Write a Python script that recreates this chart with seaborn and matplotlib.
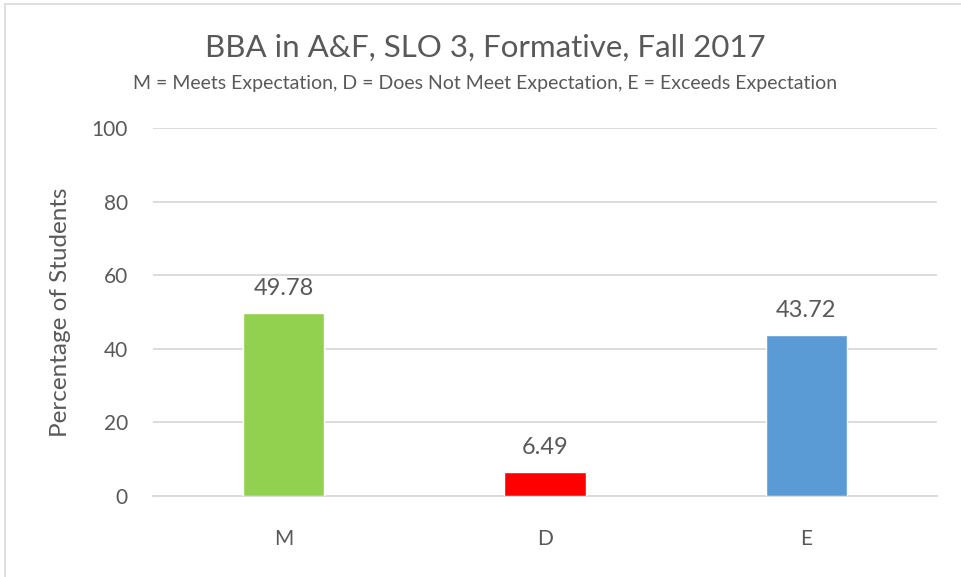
import matplotlib
matplotlib.use("Agg")
import matplotlib.pyplot as plt
import seaborn as sns
import pandas as pd
from matplotlib.patches import Rectangle

# chart data
categories = ["M", "D", "E"]
percentages = [49.78, 6.49, 43.72]
bar_colors = ["#92D050", "#FF0000", "#5B9BD5"]
y_ticks = [0, 20, 40, 60, 80, 100]

title = "BBA in A&F, SLO 3, Formative, Fall 2017"
subtitle = "M = Meets Expectation, D = Does Not Meet Expectation, E = Exceeds Expectation"
y_label = "Percentage of Students"

TEXT = "#595959"
GRID = "#D9D9D9"

sns.set_theme(style="white")
plt.rcParams["font.family"] = ["Lato", "DejaVu Sans"]

df = pd.DataFrame({"category": categories, "value": percentages})

fig = plt.figure(figsize=(9.61, 5.77), dpi=100)
ax = fig.add_axes([153 / 961, 1 - 496 / 577, (937 - 153) / 961, (496 - 128) / 577])

sns.barplot(data=df, x="category", y="value", hue="category", palette=bar_colors,
            width=0.31, legend=False, ax=ax, saturation=1, zorder=3)

ax.set_ylim(0, 100)
ax.set_xlim(-0.5, 2.5)
ax.set_yticks(y_ticks)
ax.yaxis.grid(True, color=GRID, linewidth=1.3, zorder=0)
ax.set_axisbelow(True)
for side in ["top", "right", "left"]:
    ax.spines[side].set_visible(False)
ax.spines["bottom"].set_color(GRID)
ax.spines["bottom"].set_linewidth(1.3)

ax.tick_params(axis="y", length=0, pad=18, labelsize=15, labelcolor=TEXT)
ax.tick_params(axis="x", length=0, pad=24, labelsize=15, labelcolor=TEXT)
ax.set_xlabel("")
ax.set_ylabel(y_label, fontsize=17.5, color=TEXT)
ax.yaxis.set_label_coords(-0.105, 0.5)

for container in ax.containers:
    ax.bar_label(container, fmt="%.2f", padding=10, fontsize=17, color=TEXT)

fig.text(485 / 961, 1 - 48 / 577, title, ha="center", va="center", fontsize=22.5, color=TEXT)
fig.text(485 / 961, 1 - 83 / 577, subtitle, ha="center", va="center", fontsize=14, color=TEXT)

# light frame of the chart area (left and top edge)
fig.add_artist(Rectangle((5 / 961, -0.1), 1.2, (577 - 3.5) / 577 + 0.1, transform=fig.transFigure,
                         fill=False, edgecolor=GRID, linewidth=1.2))

fig.savefig("out.png", dpi=100)
